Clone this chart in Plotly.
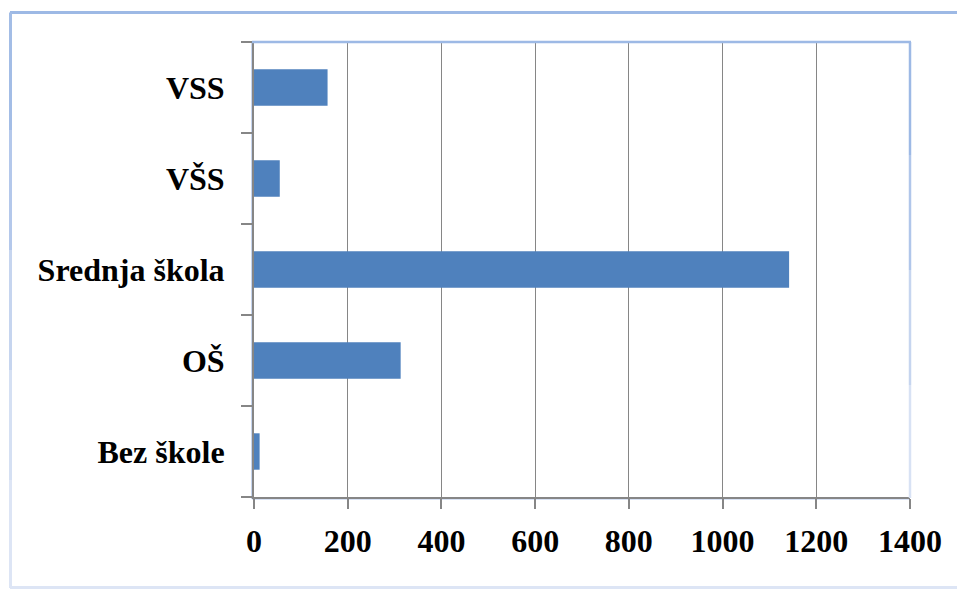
import plotly.graph_objects as go

categories = ["Bez škole", "OŠ", "Srednja škola", "VŠS", "VSS"]
values = [12, 313, 1142, 55, 157]
x_ticks = [0, 200, 400, 600, 800, 1000, 1200, 1400]

FAMILY = "Liberation Serif, Times New Roman, serif"
BAR = "#4F81BD"
GRID = "#868686"
BORDER = "#9DB9E5"

fig = go.Figure(go.Bar(
    y=categories, x=values, orientation="h",
    marker=dict(color=BAR, line=dict(width=0)),
    hoverinfo="skip",
))

L, R, T, B = 254, 47, 42, 93
W, H = 957, 590
pw, ph = W - L - R, H - T - B

def px(xp):
    return (xp - L) / pw

def py(yp):
    return (H - B - yp) / ph

shapes = []
# outer chart border (fades towards bottom)
shapes.append(dict(type="line", xref="paper", yref="paper", x0=px(10), x1=px(962), y0=py(12.5), y1=py(12.5),
                   line=dict(color=BORDER, width=3)))
left_cols = ["#A3BDE6", "#B4C8EB", "#C6D5EF", "#D5E0F3", "#DDE5F5"]
ys = [12.5, 130, 250, 370, 480, 588]
for i, c in enumerate(left_cols):
    shapes.append(dict(type="line", xref="paper", yref="paper", x0=px(10.5), x1=px(10.5), y0=py(ys[i]), y1=py(ys[i + 1]),
                       line=dict(color=c, width=3)))
shapes.append(dict(type="line", xref="paper", yref="paper", x0=px(10), x1=px(962), y0=py(587.5), y1=py(587.5),
                   line=dict(color="#DDE5F5", width=3)))
# plot area border
shapes.append(dict(type="line", xref="paper", yref="paper", x0=px(252), x1=px(911), y0=1, y1=1,
                   line=dict(color=BORDER, width=2.5), layer="above"))
right_cols = ["#9DB9E5", "#B0C6EA", "#C6D5EF", "#D8E2F4"]
ys2 = [42, 155, 270, 385, 498]
for i, c in enumerate(right_cols):
    shapes.append(dict(type="line", xref="paper", yref="paper", x0=px(910), x1=px(910), y0=py(ys2[i]), y1=py(ys2[i + 1]),
                       line=dict(color=c, width=2.5), layer="above"))
shapes.append(dict(type="line", xref="paper", yref="paper", x0=px(252), x1=px(252), y0=py(42), y1=py(499),
                   line=dict(color="#C6D5EF", width=2), layer="below"))
shapes.append(dict(type="line", xref="paper", yref="paper", x0=px(252), x1=px(910), y0=py(499), y1=py(499),
                   line=dict(color="#D8E2F4", width=2), layer="below"))

tickfont = dict(family=FAMILY, size=32, color="#000000", weight="bold")

fig.update_layout(
    width=W, height=H,
    margin=dict(l=L, r=R, t=T, b=B, pad=0),
    paper_bgcolor="white", plot_bgcolor="white",
    showlegend=False,
    bargap=0.6,
    font=dict(family=FAMILY, size=32, color="#000000"),
    shapes=shapes,
    xaxis=dict(
        range=[0, 1400], tickvals=x_ticks, ticktext=[str(v) for v in x_ticks],
        showgrid=True, gridcolor=GRID, gridwidth=1,
        showline=True, linecolor=GRID, linewidth=2,
        ticks="outside", ticklen=10, tickcolor=GRID, tickwidth=1.5,
        tickfont=tickfont,
        ticklabelstandoff=5,
        zeroline=False, fixedrange=True,
    ),
    yaxis=dict(
        categoryorder="array", categoryarray=categories,
        showgrid=False,
        showline=True, linecolor=GRID, linewidth=2,
        ticks="outside", ticklen=11, tickcolor=GRID, tickwidth=2,
        tickson="boundaries",
        tickfont=tickfont,
        ticklabelstandoff=21,
        zeroline=False, fixedrange=True,
    ),
)

fig.write_html(
    "out.html",
    config={"displayModeBar": False},
    post_script="document.body.style.margin='0';document.body.style.overflow='hidden';",
)
